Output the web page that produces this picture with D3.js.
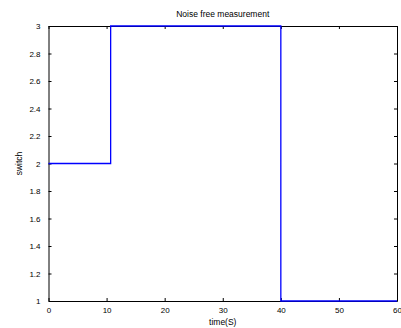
<!DOCTYPE html>
<html><head><meta charset="utf-8">
<script src="https://cdn.jsdelivr.net/npm/d3@7"></script>
<style>body{margin:0;background:#fff}svg{display:block}text{font-family:"Liberation Sans",Arial,sans-serif;fill:#000}</style>
</head><body><svg id="c" width="401" height="328"></svg>
<script>
const time = [0, 10.7, 40, 60];
const switchVal = [2, 3, 1, 1];
const xTicks = [0,10,20,30,40,50,60];
const yTicks = [1,1.2,1.4,1.6,1.8,2,2.2,2.4,2.6,2.8,3];
const title = "Noise free measurement";
const xLabel = "time(S)";
const yLabel = "switch";

const svg = d3.select("#c");
const L=48.5, R=397, T=26, B=301;
const x = d3.scaleLinear().domain([0,60]).range([L,R]);
const y = d3.scaleLinear().domain([1,3]).range([B,T]);
const fs = 8;

const ax = svg.append("g").attr("transform",`translate(0,${B})`)
  .call(d3.axisBottom(x).tickValues(xTicks).tickSizeInner(-3).tickSizeOuter(0).tickPadding(6).tickFormat(d3.format("d")));
const axT = svg.append("g").attr("transform",`translate(0,${T})`)
  .call(d3.axisTop(x).tickValues(xTicks).tickSizeInner(-3).tickSizeOuter(0).tickFormat(""));
const ay = svg.append("g").attr("transform",`translate(${L},0)`)
  .call(d3.axisLeft(y).tickValues(yTicks).tickSizeInner(-3).tickSizeOuter(0).tickPadding(8).tickFormat(d=>d3.format("~g")(d)));
const ayR = svg.append("g").attr("transform",`translate(${R},0)`)
  .call(d3.axisRight(y).tickValues(yTicks).tickSizeInner(-3).tickSizeOuter(0).tickFormat(""));
[ax,axT,ay,ayR].forEach(g=>{
  g.selectAll("text").style("font-size",fs+"px").attr("font-family","Liberation Sans, Arial, sans-serif").style("fill","#000");
  g.selectAll("path.domain").attr("stroke","#000").attr("stroke-width",1);
  g.selectAll("line").attr("stroke","#000");
});

const pts = time.map((t,i)=>[t,switchVal[i]]);
svg.append("path").datum(pts)
  .attr("d", d3.line().x(d=>x(d[0])).y(d=>y(d[1])).curve(d3.curveStepAfter))
  .attr("fill","none").attr("stroke","#0000ff").attr("stroke-width",1.3);

svg.append("text").attr("x",(L+R)/2).attr("y",17).attr("text-anchor","middle").style("font-size","8.5px").text(title);
svg.append("text").attr("x",(L+R)/2).attr("y",325).attr("text-anchor","middle").style("font-size","8.5px").text(xLabel);
svg.append("text").attr("transform",`translate(22,${(T+B)/2}) rotate(-90)`).attr("text-anchor","middle").style("font-size","8.5px").text(yLabel);
</script></body></html>
